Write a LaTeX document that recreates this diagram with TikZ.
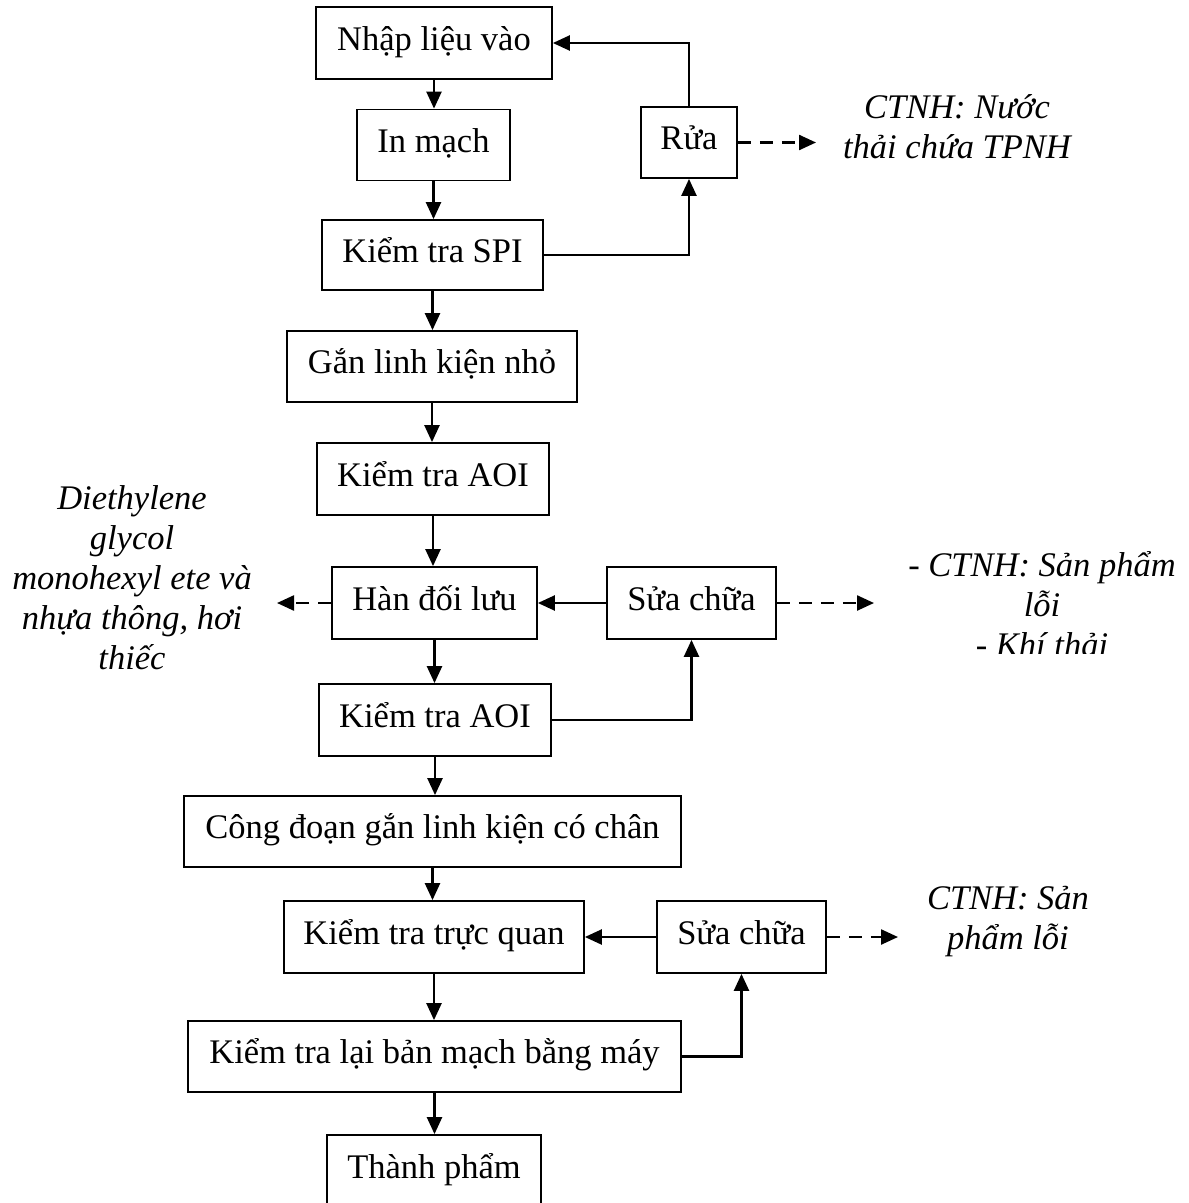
\documentclass[tikz,border=0pt]{standalone}
\usepackage{fontspec}
\setmainfont{Liberation Serif}
\usetikzlibrary{arrows.meta}
\begin{document}
\begin{tikzpicture}[x=1pt,y=-1pt,
  every node/.style={font=\fontsize{34.5}{40}\selectfont},
  box/.style={draw, line width=1.8pt, inner sep=0pt, text height=22pt, text depth=8pt, align=center},
  lbl/.style={align=center, inner sep=0pt, font=\fontsize{34.5}{40}\selectfont\itshape},
  arr/.style={line width=2.4pt, -{Triangle[length=17pt,width=15pt]}},
  dsh/.style={arr, dash pattern=on 13pt off 9pt},
  ln/.style={line width=2.4pt}]
\useasboundingbox (0,0) rectangle (1189,1203);
% boxes
\node[box, minimum width=236pt, minimum height=72pt] (nhap) at (434,43) {Nhập liệu vào};
\node[box, minimum width=153pt, minimum height=71pt] (inm) at (433.5,145) {In mạch};
\node[box, minimum width=96pt, minimum height=71pt] (rua) at (689,142.5) {Rửa};
\node[box, minimum width=221pt, minimum height=70pt] (spi) at (432.5,255) {Kiểm tra SPI};
\node[box, minimum width=290pt, minimum height=71pt] (gan) at (432,366.5) {Gắn linh kiện nhỏ};
\node[box, minimum width=232pt, minimum height=72pt] (aoia) at (433,479) {Kiểm tra AOI};
\node[box, minimum width=205pt, minimum height=72pt] (han) at (434.5,603) {Hàn đối lưu};
\node[box, minimum width=169pt, minimum height=72pt] (suaa) at (691.5,603) {Sửa chữa};
\node[box, minimum width=232pt, minimum height=72pt] (aoib) at (435,720) {Kiểm tra AOI};
\node[box, minimum width=497pt, minimum height=71pt] (cong) at (432.5,831.5) {Công đoạn gắn linh kiện có chân};
\node[box, minimum width=300pt, minimum height=72pt] (tq) at (434,937) {Kiểm tra trực quan};
\node[box, minimum width=169pt, minimum height=72pt] (suab) at (741.5,937) {Sửa chữa};
\node[box, minimum width=493pt, minimum height=71pt] (lai) at (434.5,1056.5) {Kiểm tra lại bản mạch bằng máy};
\node[box, minimum width=214pt, minimum height=72pt] (tp) at (434,1171) {Thành phẩm};
% labels
\node[lbl] (l1) at (957,127) {CTNH: Nước\\thải chứa TPNH};
\node[lbl] (l2) at (132,578) {Diethylene\\glycol\\monohexyl ete và\\nhựa thông, hơi\\thiếc};
\begin{scope}
\clip (850,520) rectangle (1189,653);
\node[lbl] (l3) at (1042,604) {- CTNH: Sản phẩm\\lỗi\\- Khí thải};
\end{scope}
\node[lbl] (l4) at (1008,922) {CTNH: Sản\\phẩm lỗi};
% coordinates for free ends
\coordinate (e1) at (816,142.5);
\coordinate (e2) at (277,603);
\coordinate (e3) at (874,603);
\coordinate (e4) at (898,937);
% main flow
\draw[arr] (nhap.south) -- (nhap.south |- inm.north);
\draw[arr] (inm.south) -- (inm.south |- spi.north);
\draw[arr] (spi.south) -- (spi.south |- gan.north);
\draw[arr] (gan.south) -- (gan.south |- aoia.north);
\draw[arr] (aoia.south) -- (aoia.south |- han.north);
\draw[arr] (han.south) -- (han.south |- aoib.north);
\draw[arr] (aoib.south) -- (aoib.south |- cong.north);
\draw[arr] (cong.south) -- (cong.south |- tq.north);
\draw[arr] (tq.south) -- (tq.south |- lai.north);
\draw[arr] (lai.south) -- (lai.south |- tp.north);
% loops
\draw[arr] (spi.east) -| (rua.south);
\draw[arr] (rua.north) |- (nhap.east);
\draw[arr] (aoib.east) -| (suaa.south);
\draw[arr] (suaa.west) -- (han.east);
\draw[arr] (lai.east) -| (suab.south);
\draw[arr] (suab.west) -- (tq.east);
% dashed outputs
\draw[dsh] (rua.east) -- (e1);
\draw[dsh] (han.west) -- (e2);
\draw[dsh] (suaa.east) -- (e3);
\draw[dsh] (suab.east) -- (e4);
\end{tikzpicture}
\end{document}
